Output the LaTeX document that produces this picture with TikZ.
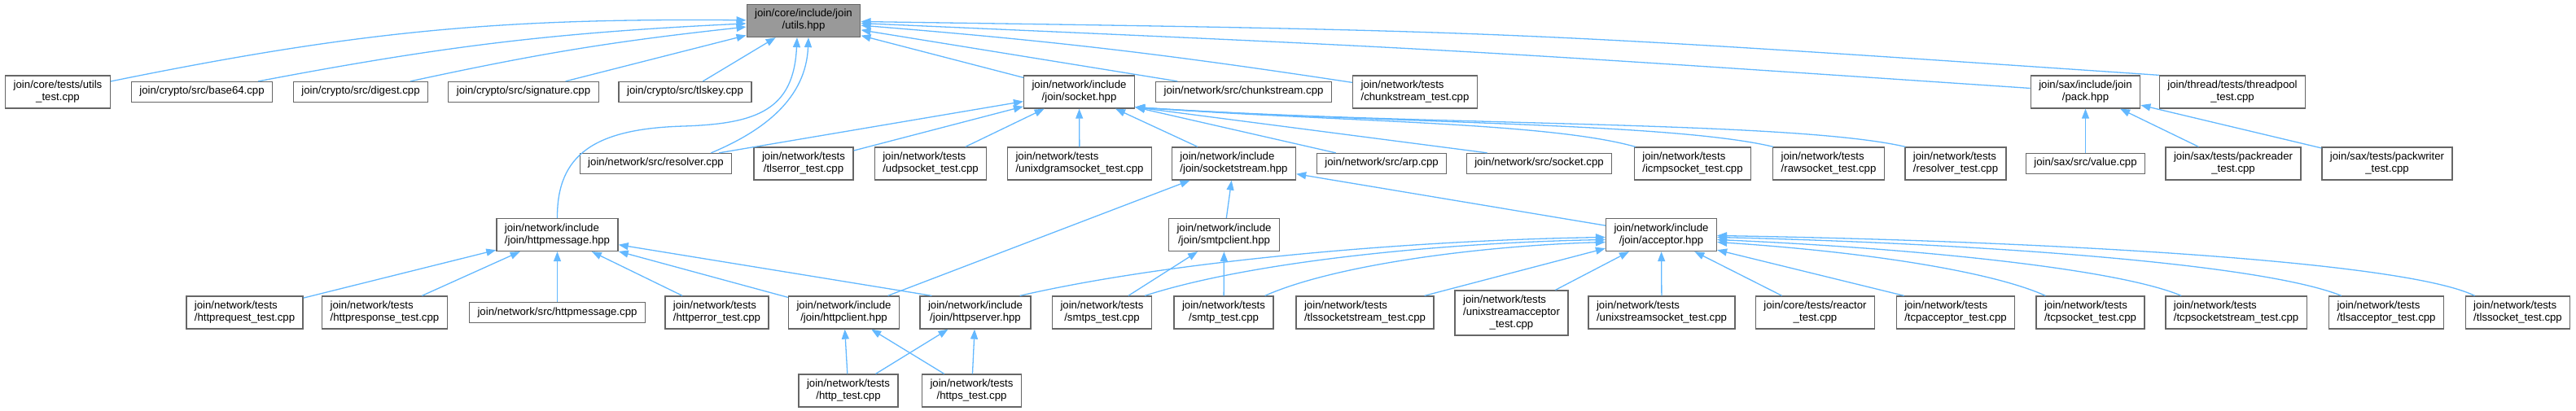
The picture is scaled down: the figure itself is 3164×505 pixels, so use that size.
\documentclass[tikz,border=0pt]{standalone}
\usepackage{fontspec}
\setmainfont{Liberation Sans}
\usetikzlibrary{arrows.meta,positioning}

\definecolor{edgeblue}{HTML}{63B8FF}
\definecolor{boxline}{HTML}{666666}
\definecolor{rootfill}{HTML}{999999}

% first line(s) flush left, last line centred (as in the graph labels)
\newlength\firstw
\newlength\lastw
\newcommand{\twolines}[2]{%
  \settowidth\firstw{#1}\settowidth\lastw{#2}%
  \ifdim\lastw>\firstw \firstw=\lastw\fi
  \begin{tabular}{@{}c@{}}\makebox[\firstw][l]{#1}\\#2\end{tabular}}
\newlength\midw
\newcommand{\threelines}[3]{%
  \settowidth\firstw{#1}\settowidth\midw{#2}\settowidth\lastw{#3}%
  \ifdim\midw>\firstw \firstw=\midw\fi
  \ifdim\lastw>\firstw \firstw=\lastw\fi
  \begin{tabular}{@{}c@{}}\makebox[\firstw][l]{#1}\\\makebox[\firstw][l]{#2}\\#3\end{tabular}}

\begin{document}
\begin{tikzpicture}[x=1pt, y=-1pt,
        file/.style={rectangle, draw=boxline, fill=white, line width=1.3pt, inner xsep=10pt, inner ysep=5pt, font=\fontsize{13.2}{15}\selectfont},
        root/.style={file, fill=rootfill},
        inc/.style={draw=edgeblue, line width=1.3pt, {Triangle[length=12pt,width=9pt]}-}]

        \useasboundingbox (0,0) rectangle (3164,505);

        % row 0
        \node[root] (utils) at (987,25.5) {\twolines{join/core/include/join}{/utils.hpp}};

        % row 1
        \node[file] (utilstest) at (71,113) {\twolines{join/core/tests/utils}{\_test.cpp}};
        \node[file] (base64) at (248,113) {\strut join/crypto/src/base64.cpp};
        \node[file] (digest) at (443,113) {\strut join/crypto/src/digest.cpp};
        \node[file] (signature) at (643,113) {\strut join/crypto/src/signature.cpp};
        \node[file] (tlskey) at (841.5,113) {\strut join/crypto/src/tlskey.cpp};
        \node[file] (socket) at (1325.5,113) {\twolines{join/network/include}{/join/socket.hpp}};
        \node[file] (chunkstream) at (1527.5,113) {\strut join/network/src/chunkstream.cpp};
        \node[file] (chunkstreamtest) at (1738,113) {\twolines{join/network/tests}{/chunkstream\_test.cpp}};
        \node[file] (pack) at (2561.5,113) {\twolines{join/sax/include/join}{/pack.hpp}};
        \node[file] (threadpool) at (2742,113) {\twolines{join/thread/tests/threadpool}{\_test.cpp}};

        % row 2
        \node[file] (resolver) at (805.5,201) {\strut join/network/src/resolver.cpp};
        \node[file] (tlserror) at (987,201) {\twolines{join/network/tests}{/tlserror\_test.cpp}};
        \node[file] (udpsocket) at (1143,201) {\twolines{join/network/tests}{/udpsocket\_test.cpp}};
        \node[file] (unixdgram) at (1326,201) {\twolines{join/network/tests}{/unixdgramsocket\_test.cpp}};
        \node[file] (socketstream) at (1515.5,201) {\twolines{join/network/include}{/join/socketstream.hpp}};
        \node[file] (arp) at (1697,201) {\strut join/network/src/arp.cpp};
        \node[file] (socketcpp) at (1890.5,201) {\strut join/network/src/socket.cpp};
        \node[file] (icmp) at (2079,201) {\twolines{join/network/tests}{/icmpsocket\_test.cpp}};
        \node[file] (raw) at (2246,201) {\twolines{join/network/tests}{/rawsocket\_test.cpp}};
        \node[file] (resolvertest) at (2402,201) {\twolines{join/network/tests}{/resolver\_test.cpp}};
        \node[file] (value) at (2561.5,201) {\strut join/sax/src/value.cpp};
        \node[file] (packreader) at (2743,201) {\twolines{join/sax/tests/packreader}{\_test.cpp}};
        \node[file] (packwriter) at (2932,201) {\twolines{join/sax/tests/packwriter}{\_test.cpp}};

        % row 3
        \node[file] (httpmessage) at (684.5,288.5) {\twolines{join/network/include}{/join/httpmessage.hpp}};
        \node[file] (smtpclient) at (1503.5,288.5) {\twolines{join/network/include}{/join/smtpclient.hpp}};
        \node[file] (acceptor) at (2040.5,288.5) {\twolines{join/network/include}{/join/acceptor.hpp}};

        % row 4
        \node[file] (httprequest) at (300.5,384) {\twolines{join/network/tests}{/httprequest\_test.cpp}};
        \node[file] (httpresponse) at (472.5,384) {\twolines{join/network/tests}{/httpresponse\_test.cpp}};
        \node[file] (httpmessagecpp) at (684.5,384) {\strut join/network/src/httpmessage.cpp};
        \node[file] (httperror) at (880.5,384) {\twolines{join/network/tests}{/httperror\_test.cpp}};
        \node[file] (httpclient) at (1036.5,384) {\twolines{join/network/include}{/join/httpclient.hpp}};
        \node[file] (httpserver) at (1198,384) {\twolines{join/network/include}{/join/httpserver.hpp}};
        \node[file] (smtps) at (1353.5,384) {\twolines{join/network/tests}{/smtps\_test.cpp}};
        \node[file] (smtp) at (1503,384) {\twolines{join/network/tests}{/smtp\_test.cpp}};
        \node[file] (tlssocketstream) at (1676.5,384) {\twolines{join/network/tests}{/tlssocketstream\_test.cpp}};
        \node[file] (unixstreamacceptor) at (1856.5,384.5) {\threelines{join/network/tests}{/unixstreamacceptor}{\_test.cpp}};
        \node[file] (unixstreamsocket) at (2041,384) {\twolines{join/network/tests}{/unixstreamsocket\_test.cpp}};
        \node[file] (reactor) at (2229.5,384) {\twolines{join/core/tests/reactor}{\_test.cpp}};
        \node[file] (tcpacceptor) at (2402,384) {\twolines{join/network/tests}{/tcpacceptor\_test.cpp}};
        \node[file] (tcpsocket) at (2567.5,384) {\twolines{join/network/tests}{/tcpsocket\_test.cpp}};
        \node[file] (tcpsocketstream) at (2746.5,384) {\twolines{join/network/tests}{/tcpsocketstream\_test.cpp}};
        \node[file] (tlsacceptor) at (2931,384) {\twolines{join/network/tests}{/tlsacceptor\_test.cpp}};
        \node[file] (tlssocket) at (3092.5,384) {\twolines{join/network/tests}{/tlssocket\_test.cpp}};

        % row 5
        \node[file] (httptest) at (1042,480) {\twolines{join/network/tests}{/http\_test.cpp}};
        \node[file] (httpstest) at (1193.5,480) {\twolines{join/network/tests}{/https\_test.cpp}};

        % utils.hpp
        \draw[inc] (utils) to[bend right=6] (utilstest);
        \draw[inc] (utils) to[bend right=4] (base64);
        \draw[inc] (utils) to[bend right=3] (digest);
        \draw[inc] (utils) -- (signature);
        \draw[inc] (utils) -- (tlskey);
        \draw[inc] ([xshift=-8pt]utils.south) .. controls (975,135) and (930,152) .. (840,155)
            .. controls (730,158) and (684,190) .. (httpmessage.north);
        \draw[inc] ([xshift=6pt]utils.south) .. controls (990,120) and (940,160) .. ([xshift=-26pt]resolver.north east);
        \draw[inc] (utils) -- (socket);
        \draw[inc] (utils) -- (chunkstream);
        \draw[inc] (utils) to[bend left=2] (chunkstreamtest);
        \draw[inc] (utils) .. controls (1775,60) .. (pack);
        \draw[inc] (utils) .. controls (1850,38) .. (threadpool.north west);

        % socket.hpp
        \draw[inc] (socket) -- (resolver);
        \draw[inc] (socket) -- (tlserror);
        \draw[inc] (socket) -- (udpsocket);
        \draw[inc] (socket) -- (unixdgram);
        \draw[inc] (socket) -- (socketstream);
        \draw[inc] ([yshift=2pt]socket.south east) -- ([xshift=24pt]arp.north west);
        \draw[inc] ([yshift=2pt]socket.south east) -- ([xshift=26pt]socketcpp.north west);
        \draw[inc] ([yshift=2pt]socket.south east) .. controls (1650,150) and (1900,150) .. ([xshift=2pt]icmp.north west);
        \draw[inc] ([yshift=2pt]socket.south east) .. controls (1700,152) and (2050,150) .. ([xshift=1pt]raw.north west);
        \draw[inc] ([yshift=2pt]socket.south east) .. controls (1750,155) and (2200,148) .. ([xshift=1pt]resolvertest.north west);

        % pack.hpp
        \draw[inc] (pack) -- (value);
        \draw[inc] (pack) -- (packreader);
        \draw[inc] (pack) -- (packwriter);

        % socketstream.hpp
        \draw[inc] (socketstream) -- (smtpclient);
        \draw[inc] (socketstream) -- (acceptor);
        \draw[inc] (socketstream) -- (httpclient);

        % httpmessage.hpp
        \draw[inc] (httpmessage) -- (httprequest);
        \draw[inc] (httpmessage) -- (httpresponse);
        \draw[inc] (httpmessage) -- (httpmessagecpp);
        \draw[inc] (httpmessage) -- (httperror);
        \draw[inc] (httpmessage) -- (httpclient);
        \draw[inc] (httpmessage) -- ([xshift=15pt]httpserver.north west);

        % smtpclient.hpp
        \draw[inc] (smtpclient) -- (smtps);
        \draw[inc] (smtpclient) -- (smtp);

        % acceptor.hpp
        \draw[inc] ([yshift=-3pt]acceptor.west) .. controls (1750,295) and (1450,318) .. ([xshift=-14pt]httpserver.north east);
        \draw[inc] ([yshift=-6pt]acceptor.west) .. controls (1780,298) and (1540,320) .. ([xshift=-9pt]smtps.north east);
        \draw[inc] ([yshift=-9pt]acceptor.west) .. controls (1820,302) and (1640,325) .. ([xshift=-11pt]smtp.north east);
        \draw[inc] ([yshift=4pt]acceptor.south west) -- ([xshift=-12pt]tlssocketstream.north east);
        \draw[inc] (acceptor) -- (unixstreamacceptor);
        \draw[inc] (acceptor) -- (unixstreamsocket);
        \draw[inc] (acceptor) -- (reactor);
        \draw[inc] ([yshift=2pt]acceptor.south east) -- ([xshift=10pt]tcpacceptor.north west);
        \draw[inc] ([yshift=-9pt]acceptor.east) .. controls (2300,310) and (2450,335) .. ([xshift=12pt]tcpsocket.north west);
        \draw[inc] ([yshift=-6pt]acceptor.east) .. controls (2350,305) and (2600,330) .. ([xshift=20pt]tcpsocketstream.north west);
        \draw[inc] ([yshift=-3pt]acceptor.east) .. controls (2450,300) and (2780,325) .. ([xshift=16pt]tlsacceptor.north west);
        \draw[inc] ([yshift=-1pt]acceptor.east) .. controls (2500,296) and (2950,320) .. ([xshift=12pt]tlssocket.north west);

        % httpclient.hpp / httpserver.hpp
        \draw[inc] (httpclient) -- (httptest);
        \draw[inc] (httpclient) -- (httpstest);
        \draw[inc] (httpserver) -- (httptest);
        \draw[inc] (httpserver) -- (httpstest);
    \end{tikzpicture}
\end{document}
